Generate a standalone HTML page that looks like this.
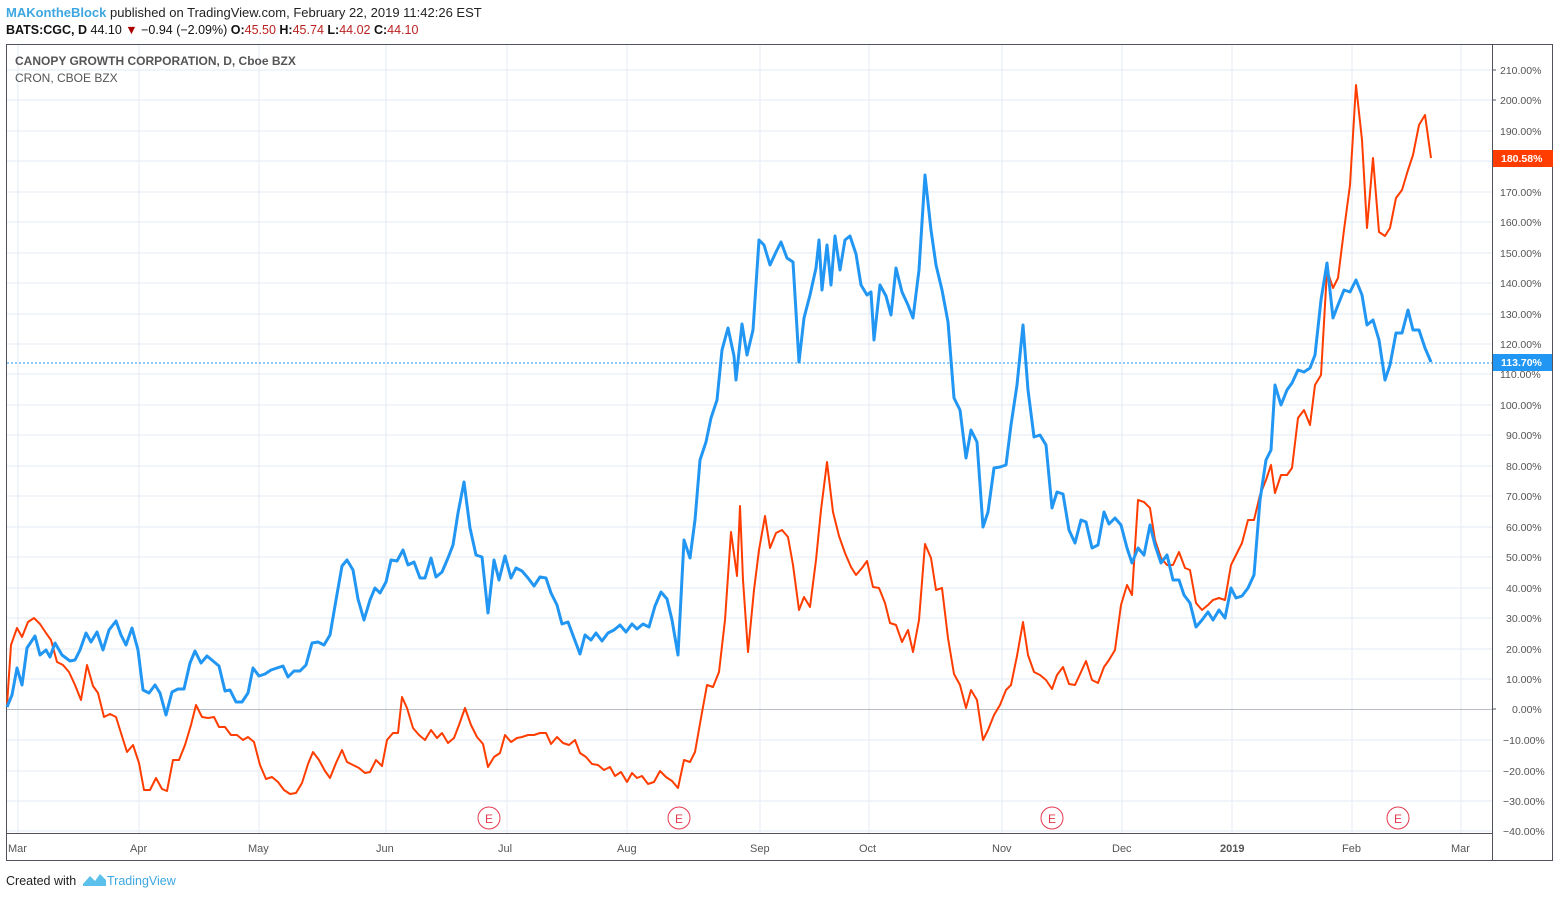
<!DOCTYPE html>
<html><head><meta charset="utf-8"><style>
body{margin:0;width:1560px;height:898px;background:#fff;overflow:hidden;font-family:"Liberation Sans",Arial,sans-serif}
</style></head><body>
<svg width="1560" height="898" xmlns="http://www.w3.org/2000/svg" font-family="Liberation Sans, Arial, sans-serif">
<text x="6" y="17" font-size="13"><tspan fill="#3ca7e0" font-weight="bold">MAKontheBlock</tspan><tspan fill="#222"> published on TradingView.com, February 22, 2019 11:42:26 EST</tspan></text>
<text x="6" y="34" font-size="12.5" fill="#111"><tspan font-weight="bold">BATS:CGC, D</tspan> 44.10 <tspan fill="#a00">▼</tspan> −0.94 (−2.09%) <tspan font-weight="bold">O:</tspan><tspan fill="#b22">45.50</tspan> <tspan font-weight="bold">H:</tspan><tspan fill="#b22">45.74</tspan> <tspan font-weight="bold">L:</tspan><tspan fill="#b22">44.02</tspan> <tspan font-weight="bold">C:</tspan><tspan fill="#b22">44.10</tspan></text>
<g stroke="#e3ebf3" stroke-width="1">
<line x1="7" x2="1492" y1="70" y2="70"/><line x1="7" x2="1492" y1="100" y2="100"/><line x1="7" x2="1492" y1="131" y2="131"/><line x1="7" x2="1492" y1="161" y2="161"/><line x1="7" x2="1492" y1="192" y2="192"/><line x1="7" x2="1492" y1="222" y2="222"/><line x1="7" x2="1492" y1="253" y2="253"/><line x1="7" x2="1492" y1="283" y2="283"/><line x1="7" x2="1492" y1="314" y2="314"/><line x1="7" x2="1492" y1="344" y2="344"/><line x1="7" x2="1492" y1="374" y2="374"/><line x1="7" x2="1492" y1="405" y2="405"/><line x1="7" x2="1492" y1="435" y2="435"/><line x1="7" x2="1492" y1="466" y2="466"/><line x1="7" x2="1492" y1="496" y2="496"/><line x1="7" x2="1492" y1="527" y2="527"/><line x1="7" x2="1492" y1="557" y2="557"/><line x1="7" x2="1492" y1="588" y2="588"/><line x1="7" x2="1492" y1="618" y2="618"/><line x1="7" x2="1492" y1="649" y2="649"/><line x1="7" x2="1492" y1="679" y2="679"/><line x1="7" x2="1492" y1="740" y2="740"/><line x1="7" x2="1492" y1="771" y2="771"/><line x1="7" x2="1492" y1="801" y2="801"/><line x1="7" x2="1492" y1="831" y2="831"/>
<line x1="18" x2="18" y1="44" y2="833"/><line x1="139" x2="139" y1="44" y2="833"/><line x1="259" x2="259" y1="44" y2="833"/><line x1="386" x2="386" y1="44" y2="833"/><line x1="507" x2="507" y1="44" y2="833"/><line x1="627" x2="627" y1="44" y2="833"/><line x1="760" x2="760" y1="44" y2="833"/><line x1="869" x2="869" y1="44" y2="833"/><line x1="1002" x2="1002" y1="44" y2="833"/><line x1="1122" x2="1122" y1="44" y2="833"/><line x1="1232" x2="1232" y1="44" y2="833"/><line x1="1352" x2="1352" y1="44" y2="833"/><line x1="1461" x2="1461" y1="44" y2="833"/>
</g>
<line x1="7" x2="1492" y1="709.5" y2="709.5" stroke="#b8bcc4"/>
<rect x="6.5" y="44.5" width="1546" height="816" fill="none" stroke="#50535e"/>
<line x1="1492.5" x2="1492.5" y1="44" y2="860" stroke="#50535e"/>
<line x1="7" x2="1492" y1="833.5" y2="833.5" stroke="#50535e"/>
<text x="15" y="65" font-size="12" font-weight="bold" fill="#555">CANOPY GROWTH CORPORATION, D, Cboe BZX</text>
<text x="15" y="82" font-size="12" fill="#555">CRON, CBOE BZX</text>
<g font-size="10.5" fill="#555">
<text x="1500" y="74">210.00%</text><text x="1500" y="104">200.00%</text><text x="1500" y="135">190.00%</text><text x="1500" y="196">170.00%</text><text x="1500" y="226">160.00%</text><text x="1500" y="257">150.00%</text><text x="1500" y="287">140.00%</text><text x="1500" y="318">130.00%</text><text x="1500" y="348">120.00%</text><text x="1500" y="378">110.00%</text><text x="1500" y="409">100.00%</text><text x="1506" y="439">90.00%</text><text x="1506" y="470">80.00%</text><text x="1506" y="500">70.00%</text><text x="1506" y="531">60.00%</text><text x="1506" y="561">50.00%</text><text x="1506" y="592">40.00%</text><text x="1506" y="622">30.00%</text><text x="1506" y="653">20.00%</text><text x="1506" y="683">10.00%</text><text x="1512" y="713">0.00%</text><text x="1503" y="744">−10.00%</text><text x="1503" y="775">−20.00%</text><text x="1503" y="805">−30.00%</text><text x="1503" y="835">−40.00%</text>
</g>
<g stroke="#50535e"><line x1="1492" x2="1496" y1="70" y2="70"/><line x1="1492" x2="1496" y1="100" y2="100"/><line x1="1492" x2="1496" y1="709" y2="709"/></g>
<g font-size="11" fill="#555">
<text x="8" y="852">Mar</text><text x="130" y="852">Apr</text><text x="248" y="852">May</text><text x="376" y="852">Jun</text><text x="498" y="852">Jul</text><text x="617" y="852">Aug</text><text x="750" y="852">Sep</text><text x="859" y="852">Oct</text><text x="992" y="852">Nov</text><text x="1112" y="852">Dec</text><text x="1220" y="852" font-weight="bold">2019</text><text x="1342" y="852">Feb</text><text x="1451" y="852">Mar</text>
</g>
<line x1="7" x2="1492" y1="363" y2="363" stroke="#2196f3" stroke-dasharray="2,2"/>
<polyline fill="none" stroke="#ff3d00" stroke-width="2" stroke-linejoin="round" points="7,705 11,645 17,628 22,637 28,622 34,618 40,624 46,633 51,640 57,662 63,665 69,672 75,685 81,700 87,665 93,686 98,693 104,717 110,714 116,717 121,733 127,752 133,745 139,763 144,790 150,790 156,778 162,789 167,791 173,760 179,760 185,745 191,725 196,705 202,717 208,718 214,717 219,727 225,727 231,735 237,735 243,740 248,737 254,742 260,765 266,779 272,777 278,782 284,790 290,794 296,793 302,783 308,764 313,752 319,760 325,771 330,778 336,763 342,750 347,762 353,765 359,768 365,773 370,772 376,760 382,766 387,740 393,733 398,733 402,697 407,708 413,728 419,735 425,740 431,730 437,738 442,733 448,743 454,738 459,725 465,708 471,725 477,737 483,744 488,767 494,757 500,753 505,735 511,742 517,738 522,737 528,735 534,735 540,733 546,733 551,744 557,737 563,743 569,745 575,740 580,753 586,757 592,764 598,765 604,770 610,767 615,776 621,772 627,782 632,773 637,778 642,776 648,784 654,782 660,771 666,777 672,781 678,788 684,760 690,762 695,752 701,718 707,685 713,687 719,672 725,620 731,532 737,576 740,506 743,580 748,652 754,590 759,550 765,516 770,548 776,533 782,530 788,537 793,565 799,610 804,597 810,607 816,560 821,510 827,462 833,512 839,536 845,553 851,567 856,575 862,568 867,561 873,587 879,588 885,603 890,623 896,625 902,642 908,630 913,652 919,620 925,544 931,558 936,590 942,588 948,638 954,674 960,685 966,708 971,690 977,700 983,740 988,730 994,715 1000,705 1006,690 1011,685 1017,656 1023,622 1028,655 1034,672 1040,675 1046,680 1052,689 1057,675 1063,667 1069,684 1075,685 1081,672 1086,661 1092,680 1098,683 1104,667 1109,660 1115,650 1121,605 1127,585 1132,595 1138,500 1144,502 1150,508 1155,540 1161,558 1167,565 1173,565 1179,552 1185,568 1190,570 1196,603 1202,610 1208,605 1213,600 1219,598 1225,600 1231,565 1236,555 1242,543 1248,520 1254,520 1260,495 1266,480 1271,465 1275,493 1281,475 1287,475 1292,468 1298,418 1304,410 1310,425 1315,385 1321,375 1327,270 1333,288 1338,278 1344,230 1350,185 1356,85 1362,140 1367,228 1373,158 1379,232 1385,236 1390,228 1396,198 1402,190 1408,170 1413,155 1419,125 1425,115 1431,158"/>
<polyline fill="none" stroke="#2196f3" stroke-width="3" stroke-linejoin="round" points="7,707 12,695 17,668 22,685 27,648 35,636 40,655 46,650 50,657 55,643 62,655 70,661 75,660 80,650 86,633 91,642 97,632 103,650 109,630 116,621 121,635 126,645 132,628 138,650 143,690 149,693 155,685 160,693 166,715 172,692 178,689 184,689 190,663 195,651 201,663 207,656 213,661 219,666 225,691 230,690 236,702 242,702 248,693 253,668 259,676 265,674 271,670 277,668 283,666 288,677 294,671 300,671 306,665 312,643 318,642 324,645 330,635 336,600 342,566 347,560 353,570 358,599 364,620 370,600 375,588 380,593 386,582 391,560 397,561 403,550 408,565 414,562 420,578 425,578 431,558 436,577 442,572 448,558 453,545 458,513 464,482 470,528 476,555 482,557 488,613 494,560 499,580 505,556 511,578 516,568 522,571 528,578 534,586 540,577 546,578 551,593 557,605 562,624 568,622 574,638 580,654 585,635 591,640 596,633 602,641 608,633 614,630 620,625 626,632 632,624 637,629 643,624 649,627 655,606 661,592 667,599 672,620 678,655 684,540 690,558 695,520 700,460 706,442 711,418 717,400 722,350 728,328 734,356 736,380 742,324 747,355 753,330 759,240 764,245 770,265 776,252 781,242 787,258 793,262 799,362 804,318 810,295 816,268 819,240 822,290 827,245 831,285 835,236 840,270 845,240 850,236 856,254 861,285 867,295 871,292 874,340 880,285 886,296 891,315 896,268 902,292 908,305 913,318 919,270 925,175 931,230 936,265 942,290 948,322 954,398 960,410 966,458 971,430 977,442 983,527 988,512 994,468 1000,467 1006,465 1011,425 1017,385 1023,325 1028,390 1034,437 1040,435 1046,445 1052,508 1057,492 1063,494 1069,530 1075,543 1081,520 1086,522 1092,548 1098,545 1104,512 1109,524 1115,518 1121,525 1127,548 1132,563 1138,548 1144,555 1150,525 1155,545 1161,563 1167,555 1173,580 1179,580 1184,595 1190,603 1196,627 1202,620 1208,612 1213,620 1219,610 1225,618 1231,588 1236,598 1242,596 1248,588 1254,575 1260,500 1266,460 1271,450 1275,385 1281,405 1287,390 1292,383 1298,370 1304,372 1310,368 1315,355 1321,300 1327,263 1333,318 1338,305 1344,290 1350,292 1356,280 1362,295 1367,325 1373,320 1379,340 1385,380 1390,365 1396,333 1402,333 1408,310 1413,330 1419,330 1425,348 1431,362"/>
<g fill="#fff" stroke="#e53950" stroke-width="1"><circle cx="489" cy="818" r="11"/><circle cx="679" cy="818" r="11"/><circle cx="1052" cy="818" r="11"/><circle cx="1398" cy="818" r="11"/></g>
<g font-size="12" fill="#e53950" text-anchor="middle"><text x="489" y="823">E</text><text x="679" y="823">E</text><text x="1052" y="823">E</text><text x="1398" y="823">E</text></g>
<rect x="1493" y="150" width="60" height="17" fill="#ff3d00"/>
<text x="1501" y="162" font-size="10.5" font-weight="bold" fill="#fff">180.58%</text>
<rect x="1493" y="354" width="59" height="17" fill="#2196f3"/>
<text x="1501" y="366" font-size="10.5" font-weight="bold" fill="#fff">113.70%</text>
<text x="6" y="885" font-size="12.5" fill="#222">Created with</text>
<path d="M83 884 L90 876 L95 881 L100 874 L106 880 L106 886 L83 886 Z" fill="#5bc0eb"/>
<text x="107" y="885" font-size="12.5" fill="#3ca7e0">TradingView</text>
</svg>
</body></html>
